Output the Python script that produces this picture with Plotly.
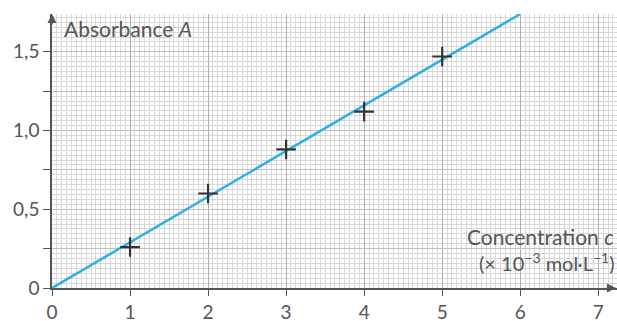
import plotly.graph_objects as go

# data
conc = [1, 2, 3, 4, 5]
absorb = [0.26, 0.60, 0.88, 1.12, 1.47]
fit_x = [0, 6]
fit_y = [0, 1.74]
x_ticks = [0, 1, 2, 3, 4, 5, 6, 7]
y_tickvals = [0, 0.25, 0.5, 0.75, 1.0, 1.25, 1.5]
y_ticktext = ["0", "", "0,5", "", "1,0", "", "1,5"]

FONT = "Lato"
TXT = "#555555"
AX = "#555555"

fig = go.Figure()
fig.add_trace(go.Scatter(x=fit_x, y=fit_y, mode="lines",
                         line=dict(color="#2fb0e3", width=2.5), cliponaxis=True))
fig.add_trace(go.Scatter(x=conc, y=absorb, mode="markers",
                         marker=dict(symbol="cross-thin", size=14,
                                     line=dict(color="#333333", width=2.2))))

fig.update_layout(
    width=617, height=321,
    margin=dict(l=52, r=0, t=14, b=33, autoexpand=False),
    paper_bgcolor="white", plot_bgcolor="white",
    showlegend=False,
    font=dict(family=FONT, size=19, color=TXT),
    xaxis=dict(range=[0, 7.24], tickvals=x_ticks, ticktext=[str(v) for v in x_ticks],
               showgrid=True, gridcolor="#b0b0b0", gridwidth=1,
               minor=dict(dtick=0.0625, tick0=0, showgrid=True, gridcolor="#d8d8d8", gridwidth=1),
               showline=True, linecolor=AX, linewidth=1.5,
               ticks="outside", ticklen=6, tickcolor=AX, zeroline=False, automargin=False,
               tickfont=dict(family=FONT, size=19, color=TXT)),
    yaxis=dict(range=[0, 1.74], tickvals=y_tickvals, ticktext=y_ticktext,
               showgrid=True, gridcolor="#c0c0c0", gridwidth=1,
               minor=dict(dtick=0.03125, tick0=0, showgrid=True, gridcolor="#d8d8d8", gridwidth=1),
               showline=True, linecolor=AX, linewidth=1.5,
               ticks="outside", ticklen=7, tickcolor=AX, zeroline=False, automargin=False,
               tickfont=dict(family=FONT, size=19, color=TXT)),
)

# axis arrows
fig.add_annotation(x=0, y=1.0, xref="x", yref="paper", ax=0, ay=12, axref="pixel", ayref="pixel",
                   showarrow=True, arrowhead=2, arrowsize=1.2, arrowwidth=1.5, arrowcolor=AX, text="")
fig.add_annotation(x=1.0, y=0, xref="paper", yref="y", ax=-12, ay=0,
                   showarrow=True, arrowhead=2, arrowsize=1.2, arrowwidth=1.5, arrowcolor=AX, text="")

fig.add_annotation(x=0, y=1.0, xref="paper", yref="paper", xshift=10, yshift=0,
                   xanchor="left", yanchor="top", showarrow=False,
                   text="Absorbance <i>A</i>", font=dict(family=FONT, size=21, color=TXT))
fig.add_annotation(x=1.0, y=0.33, xref="paper", yref="y", xshift=-1,
                   xanchor="right", yanchor="middle", showarrow=False, align="right",
                   text="Concentration <i>c</i>", font=dict(family=FONT, size=21, color=TXT))
fig.add_annotation(x=1.0, y=0.165, xref="paper", yref="y", xshift=0,
                   xanchor="right", yanchor="middle", showarrow=False, align="right",
                   text="(× 10<sup>−3</sup> mol·L<sup>−1</sup>)", font=dict(family=FONT, size=20, color=TXT))

fig.write_html("out.html",
               config={"displayModeBar": False},
               post_script="document.body.style.margin='0';"
                           "document.documentElement.style.overflow='hidden';"
                           "document.body.style.overflow='hidden';")
